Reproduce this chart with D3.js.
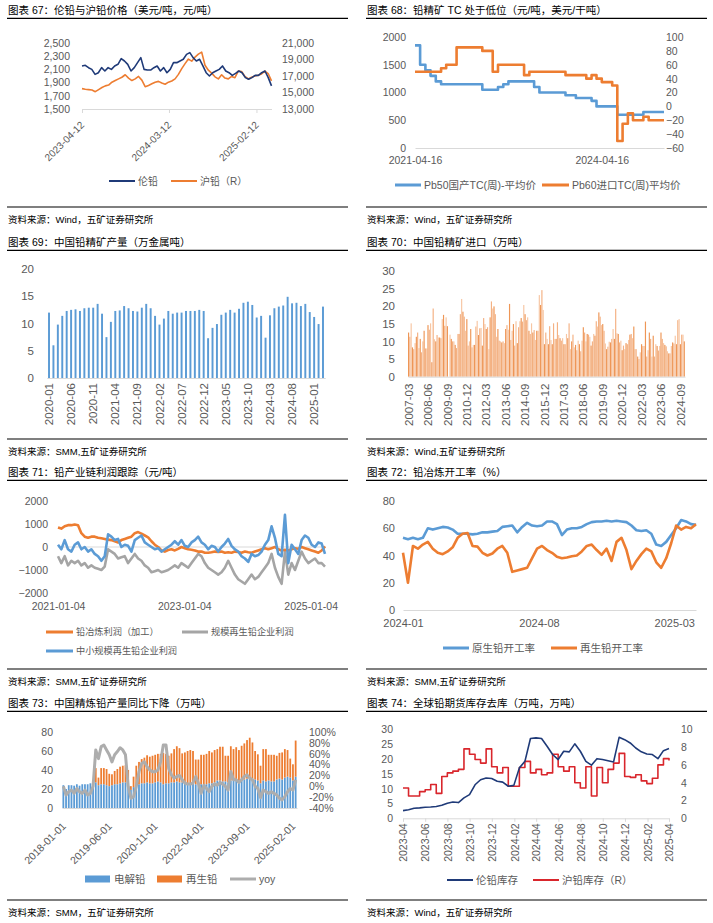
<!DOCTYPE html>
<html lang="zh">
<head>
<meta charset="utf-8">
<title>铅</title>
<script src="https://cdnjs.cloudflare.com/ajax/libs/d3/7.8.5/d3.min.js"></script>
<style>
  body { margin: 0; background: #fff; }
  svg text { font-family: "Liberation Sans", "Noto Sans CJK SC", sans-serif; }
</style>
</head>
<body>
<div id="chart"></div>
<script>
// ---------- data ----------
// 67: LME lead (USD/t) and SHFE lead (CNY/t, right axis)
var lme67 = [2152, 2162, 2126, 2100, 2025, 2050, 2126, 2076, 2126, 2100, 2152, 2177, 2263, 2227, 2177, 2076, 2126, 2202, 2278, 2100,
  2090, 2090, 2126, 2152, 2076, 2126, 2050, 2100, 2202, 2202, 2227, 2253, 2328, 2354, 2278, 2227, 2253, 2152, 2050, 2000,
  2050, 2076, 2100, 2152, 2076, 2050, 2010, 2040, 2076, 2050, 1975, 1950, 1975, 2010, 2010, 2050, 2076, 1975, 1850];
var shfe67 = [15465, 15400, 15350, 15300, 15100, 15350, 15600, 15800, 15900, 16250, 16450, 16650, 16850, 17150, 16750, 16450,
  16650, 16950, 16500, 15700, 15850, 16050, 16250, 16350, 16150, 16000, 16250, 16400, 16650, 17200, 17900, 18500, 19050,
  18800, 19300, 19650, 19900, 18300, 17700, 17350, 16900, 16650, 17150, 16750, 16650, 16950, 16800, 17600, 17550, 16950,
  16650, 16850, 17000, 17100, 17250, 17600, 17300, 16400];
var ticks67 = ["2023-04-12", "2024-03-12", "2025-02-12"];

// 68: monthly TC, from 2021-04-16
var tcDomestic68 = [1850, 1500, 1400, 1300, 1200, 1150, 1150, 1150, 1150, 1150, 1150, 1150, 1150, 1050, 1050, 1050, 1100,
  1150, 1200, 1200, 1200, 1200, 1200, 1100, 1000, 1000, 1000, 1000, 1000, 950, 950, 900, 900, 900, 850, 750, 750, 750, 750,
  600, 600, 600, 600, 600, 650, 650, 650, 650, 650];
var tcImport68 = [50, 50, 50, 50, 50, 55, 60, 60, 85, 85, 85, 85, 85, 80, 80, 50, 60, 60, 60, 60, 60, 45, 50, 50, 50, 50,
  50, 50, 50, 45, 45, 45, 45, 40, 45, 40, 35, 35, 30, -50, -25, -10, -20, -20, -15, -20, -20, -20, -20];
var ticks68 = ["2021-04-16", "2024-04-16"];

// 69: monthly output from 2020-01
var prod69 = [12.0, 6.0, 9.8, 11.4, 12.3, 12.5, 12.6, 12.3, 12.8, 12.9, 12.9, 13.6,
  11.8, 7.5, 10.3, 12.3, 12.4, 13.2, 12.8, 12.3, 12.2, 12.9, 13.6, 12.8,
  11.4, 9.8, 10.9, 12.3, 11.8, 12.0, 12.0, 12.3, 12.3, 12.3, 12.5, 12.3,
  7.3, 9.2, 9.9, 11.6, 12.0, 12.5, 12.0, 12.7, 13.8, 14.0, 13.4, 11.1,
  11.4, 7.4, 11.5, 12.8, 13.1, 13.3, 14.9, 13.7, 13.8, 13.2, 13.6, 12.1,
  11.2, 9.9, 13.1];
var ticks69 = ["2020-01", "2020-06", "2020-11", "2021-04", "2021-09", "2022-02", "2022-07", "2022-12", "2023-05",
  "2023-10", "2024-03", "2024-08", "2025-01"];

// 70: monthly imports from 2007-03
var imp70 = [12.5, 11.3, 15.1, 8.3, 7.8, 9.5, 11.3, 12.5, 8.1, 10.7,
  6.9, 10, 13, 8, 8, 14.6, 13.3, 15.1, 4.1, 19.3,
  10.6, 10, 11.8, 11.1, 11.1, 10.9, 16.3, 17.5, 14.4, 16.8,
  14.3, 0, 11.9, 10.7, 10, 10, 9, 8.1, 12.1, 12.1,
  17.7, 22, 18.4, 17, 13, 16.3, 8.8, 10, 13.5, 8.3,
  9, 9, 14.2, 15.8, 11.8, 13.7, 13.8, 8.8, 16.6, 14.9,
  13.5, 14, 7.8, 16.8, 21.3, 19.3, 19.9, 17.7, 11.3, 13.5,
  10.2, 10, 9.7, 10, 9.5, 13.5, 14.6, 13.3, 20.6, 10.4,
  13, 14.9, 8.8, 15.7, 9.5, 14, 15.7, 16.6, 15.6, 20.3,
  17.7, 16, 16.8, 13, 12.1, 15.1, 12.5, 13.2, 10.4, 13,
  13, 23.1, 20.3, 24.5, 18.9, 9.2, 12.5, 10.7, 9.2, 14.3,
  10.4, 9.2, 15.1, 10.7, 10.7, 15.4, 11.8, 10.9, 10.2, 10.9,
  9.2, 9.2, 12.1, 10.9, 15.1, 7.8, 10, 11.9, 8.3, 9,
  7.5, 10.2, 9.2, 7.2, 10.2, 14, 12.5, 10, 12.1, 11.9,
  11.3, 8.8, 10, 12.1, 11.6, 15.7, 14.2, 18.2, 17, 14.6,
  14.9, 13, 9.4, 7.8, 8.5, 9.9, 9.7, 10.7, 13.5, 10.7,
  19.2, 12.3, 12.1, 9.7, 10.2, 7.5, 8.8, 7.8, 9.5, 9.2,
  10.4, 11.9, 12.1, 10.9, 14.2, 7.8, 7.8, 5.7, 5, 6.9,
  9.2, 8.7, 8.7, 15.6, 5.7, 7.5, 12.5, 10.7, 5.7, 11.6,
  5.7, 9.2, 8.7, 7.4, 8.7, 12.5, 10.7, 9.5, 9, 8.6,
  7.2, 6.6, 6.6, 8.7, 9.7, 9.4, 11.6, 9.2, 16, 16.3,
  9.2, 11.9, 11.9, 10];
var ticks70 = ["2007-03", "2008-06", "2009-09", "2010-12", "2012-03", "2013-06", "2014-09", "2015-12", "2017-03",
  "2018-06", "2019-09", "2020-12", "2022-03", "2023-06", "2024-09"];

// 71: weekly profit, 2021-01-04 .. 2025-03
var smelt71 = [850, 800, 900, 950, 950, 980, 950, 600, 450, 400, 450, 450, 400, 380, 350, 320, 300, 250, 200, 300,
  350, 400, 450, 600, 650, 580, 500, 420, 250, 100, 0, -150, -200, -130, -100, -150, -80, 0, -50, -100,
  -120, -150, -200, -200, -250, -250, -230, -200, -220, -200, -250, -230, -250, -200, -220, -250, -200, -230, -250, -200,
  -150, -100, -50, -100, -50, 0, -100, -150, -120, -150, -100, -50, -80, 0, -50, -100, -150, -200, -250, -150, 30];
var bigRec71 = [-400, -700, -400, -800, -600, -700, -600, -800, -700, -900, -800, -900, -950, -1000, -850, -100, -200, -300, -500, -450,
  -400, -700, -500, -300, -500, -600, -800, -900, -1100, -1050, -1000, -1100, -1050, -1000, -900, -800, -900, -700, -800, -900,
  -700, -500, -300, -400, -700, -900, -1000, -1100, -1200, -1100, -900, -600, -900, -1200, -1400, -1500, -1600, -1400, -1200, -1400,
  -1300, -1100, -900, -700, -300, -900, -1300, -1600, -200, -1200, -700, -1000, -600, -200, -500, -700, -600, -500, -700, -700, -850];
var smallRec71 = [100, -100, 300, -100, -200, 100, 200, -100, 0, -200, -100, -300, -400, -600, -400, 550, 450, 300, 350, 0,
  100, 50, -200, 300, 400, 500, 200, 100, 0, -100, -50, -200, -100, 0, 100, 250, 100, 300, 50, 0,
  200, 300, 450, 200, 100, -100, 50, 0, -200, 0, 150, 350, 50, -100, -200, -400, -500, -650, -300, -400,
  -350, -200, 100, 300, 900, 400, -300, -400, 1400, -700, 100, -100, -300, 300, 500, 400, 100, 0, 200, 150, -300];
var ticks71 = ["2021-01-04", "2023-01-04", "2025-01-04"];

// 72: weekly operating rate (%), 2024-01 .. 2025-04
var primary72 = [53, 52, 53, 52, 53, 60, 59, 60, 61, 60.5, 59, 56, 56, 56, 55.5, 56, 57, 57, 57.5, 58,
  61, 61.5, 62, 57, 61, 64, 62, 61.5, 62, 65, 65, 63, 55, 59, 60, 60, 61, 63, 64.5, 65,
  65, 65.5, 65, 65.5, 65, 64.5, 62, 58.5, 58, 58.5, 56, 48, 47, 50, 55, 60, 66, 65, 63, 62.5];
var secondary72 = [42, 20, 47, 45, 48, 50, 45, 42, 41, 43, 46, 53, 56, 56.5, 47, 46.5, 42, 40, 41.5, 45,
  47, 42, 28, 29, 30, 31, 38, 45, 47, 44, 42, 39, 38, 38.5, 39.5, 40, 43, 47, 48, 44,
  40.5, 45, 36, 50, 53, 44, 30, 36, 41, 45, 43, 35, 31, 38, 49, 62, 59, 61, 60, 63];
var ticks72 = ["2024-01", "2024-08", "2025-03"];

// 73: monthly refined lead from 2018-01 (stacked) and yoy (%)
var electro73 = [24, 20, 24, 24, 23.5, 25, 23.5, 25, 25, 25, 26, 26,
  27, 24, 25, 25, 24, 23, 24, 25, 25, 26, 27, 27,
  26, 19, 22, 25, 25, 26, 26, 27, 26, 26, 27, 28,
  27, 25, 26, 26, 27, 27, 28, 27, 27, 26, 26, 26,
  27, 25, 24, 25, 25, 25, 26, 26, 27, 29, 29, 28,
  28, 27, 29, 30, 29, 29, 30, 30, 31, 32, 31, 30,
  29, 26, 29, 28, 29, 28, 28, 30, 31, 30, 32, 33,
  32, 29, 33];
var recycled73 = [0, 0, 0, 0, 0, 0, 0, 0, 0, 0, 0, 0,
  15, 8, 17, 17, 17, 13, 11.5, 14, 16, 17.5, 17.5, 18,
  14, 4, 11, 19.5, 23.5, 25.5, 27, 28.5, 28, 29, 29, 29,
  30, 33, 31, 29, 30.5, 35, 37, 36, 30.5, 32.5, 34, 35,
  33, 26, 27, 31, 31, 32, 34, 32.5, 34, 33, 35.5, 36.5,
  27, 28, 36, 32, 35, 32, 35.5, 38, 40.5, 42, 38, 30,
  27.5, 18.5, 33, 34, 27, 28, 28, 25, 27, 28.5, 30, 28,
  20, 17, 38];
var yoy73 = [0, -16, -10, -7, -13, -4, -10, -13, -7, -16, -13, 0,
  67, 51, 73, 76, 67, 58, 45, 58, 64, 71, 67, 58,
  0, -22, -19, 0, 27, 42, 45, 36, 30, 27, 27, 30,
  45, 76, 76, 33, 21, 15, 18, 20, 12, 6, 4, 4,
  6, 18, 6, -13, 2, -4, -10, 0, 4, 2, 7, 4,
  0, -7, 27, 12, 12, 7, 12, 18, 21, 15, 12, 0,
  -4, -21, -7, -10, -13, -10, -13, -16, -22, -25, -19, -10,
  -4, -7, 12];
var ticks73 = ["2018-01-01", "2019-06-01", "2020-11-01", "2022-04-01", "2023-09-01", "2025-02-01"];

// 74: half-monthly stocks, 2023-04 .. 2025-04
var lmeStock74 = [2.6, 2.9, 3.4, 3.5, 3.7, 3.8, 4.0, 4.4, 5.1, 5.5, 5.3, 6.9, 8.0, 11.3, 13.0, 13.6, 13.4, 12.5, 12.2, 10.8,
  11.1, 17.0, 19.2, 26.9, 27.1, 26.9, 24.3, 21.5, 19.8, 22.6, 22.4, 25.1, 22.6, 19.2, 17.9, 20.1, 19.8, 19.4, 19.0, 27.3,
  26.5, 25.4, 23.7, 22.4, 21.7, 21.5, 20.1, 22.8, 23.5];
var shfeStock74 = [3.4, 2.5, 2.5, 3.0, 3.2, 3.8, 2.8, 4.7, 5.1, 5.3, 5.5, 7.8, 7.2, 6.6, 6.2, 7.8, 5.8, 5.1, 5.7, 3.6,
  3.6, 5.7, 6.4, 5.1, 5.5, 4.9, 5.1, 7.2, 5.8, 5.3, 5.8, 4.0, 3.4, 5.8, 2.5, 5.7, 4.0, 5.5, 6.2, 7.3,
  4.7, 4.6, 4.9, 4.2, 3.9, 4.5, 6.0, 6.7, 6.5];
var ticks74 = ["2023-04", "2023-06", "2023-08", "2023-10", "2023-12", "2024-02", "2024-04", "2024-06", "2024-08",
  "2024-10", "2024-12", "2025-02", "2025-04"];

// ---------- helpers ----------
var AXIS_TEXT = "#595959", AXIS_LINE = "#d9d9d9";
var parseDay = d3.timeParse("%Y-%m-%d");
var parseMonth = d3.timeParse("%Y-%m");

var svg = d3.select("#chart").append("svg")
  .attr("width", 713)
  .attr("height", 923);

function frame(x0, y0, title, source) {
  svg.append("text").attr("x", x0 + 1).attr("y", y0 + 10).attr("dy", ".35em")
    .style("font-size", "10.5px").attr("fill", "#000").text(title);
  svg.append("line").attr("x1", x0).attr("x2", x0 + 341).attr("y1", y0 + 18.3).attr("y2", y0 + 18.3)
    .attr("stroke", "#000").attr("stroke-width", 1.2);
  svg.append("line").attr("x1", x0).attr("x2", x0 + 341).attr("y1", y0 + 207).attr("y2", y0 + 207)
    .attr("stroke", "#000").attr("stroke-width", 1.2);
  svg.append("text").attr("x", x0 + 1).attr("y", y0 + 219.5).attr("dy", ".35em")
    .style("font-size", "9.5px").attr("fill", "#000").text(source);
}

function yAxis(scale, x, ticks, fmt, size, right) {
  var ax = right ? d3.axisRight(scale) : d3.axisLeft(scale);
  var g = svg.append("g").attr("transform", "translate(" + x + ",0)")
    .call(ax.tickValues(ticks).tickSize(0).tickPadding(0).tickFormat(fmt));
  g.select(".domain").remove();
  g.selectAll("text").attr("fill", AXIS_TEXT).style("font-size", size);
  return g;
}

function xAxis(scale, y, ticks, fmt, tickSize, pad, size) {
  var g = svg.append("g").attr("transform", "translate(0," + y + ")")
    .call(d3.axisBottom(scale).tickValues(ticks).tickSize(tickSize).tickSizeOuter(0).tickPadding(pad).tickFormat(fmt));
  g.select(".domain").attr("stroke", AXIS_LINE);
  g.selectAll(".tick line").attr("stroke", AXIS_LINE);
  g.selectAll("text").attr("fill", AXIS_TEXT).style("font-size", size);
  return g;
}

function hLine(x1, x2, y) {
  svg.append("line").attr("x1", x1).attr("x2", x2).attr("y1", y).attr("y2", y)
    .attr("stroke", AXIS_LINE).attr("stroke-width", 1);
}

// n evenly spaced dates from t0 to t1
function spread(n, t0, t1) {
  var s = d3.scaleLinear().domain([0, n - 1]).range([+t0, +t1]);
  return d3.range(n).map(function (i) { return new Date(s(i)); });
}

function addLine(xs, values, x, y, color, width, curve) {
  var line = d3.line()
    .x(function (d, i) { return x(xs[i]); })
    .y(function (d) { return y(d); })
    .curve(curve || d3.curveLinear);
  svg.append("path").datum(values).attr("d", line)
    .attr("fill", "none").attr("stroke", color).attr("stroke-width", width)
    .attr("stroke-linejoin", "round");
}

function legendLine(x1, x2, y, color, width, label, size) {
  svg.append("line").attr("x1", x1).attr("x2", x2).attr("y1", y).attr("y2", y)
    .attr("stroke", color).attr("stroke-width", width);
  svg.append("text").attr("x", x2 + 3).attr("y", y).attr("dy", ".35em")
    .style("font-size", size).attr("fill", AXIS_TEXT).text(label);
}

function legendBox(x1, x2, y, color, label, size) {
  svg.append("rect").attr("x", x1).attr("y", y - 3.5).attr("width", x2 - x1).attr("height", 7).attr("fill", color);
  svg.append("text").attr("x", x2 + 4).attr("y", y).attr("dy", ".35em")
    .style("font-size", size).attr("fill", AXIS_TEXT).text(label);
}

function rotateLabels(g, angle, lx, ly) {
  g.selectAll("text")
    .attr("x", lx).attr("y", ly).attr("dy", ".35em")
    .attr("transform", "rotate(" + angle + ")")
    .style("text-anchor", "end");
}

// ---------- 67 ----------
frame(7, 0, "图表 67：伦铅与沪铅价格（美元/吨，元/吨）", "资料来源：Wind，五矿证券研究所");
var t67 = [parseDay("2023-04-12"), parseDay("2025-04-11")];
var x67 = d3.scaleTime().domain(t67).range([82, 271.5]);
var yL67 = d3.scaleLinear().domain([1500, 2500]).range([109, 43]);
var yR67 = d3.scaleLinear().domain([13000, 21000]).range([109, 43]);
yAxis(yL67, 70, d3.range(1500, 2501, 200), d3.format(","), "10.5px");
yAxis(yR67, 282, d3.range(13000, 21001, 2000), d3.format(","), "10.5px", true);
var gx67 = xAxis(x67, 109, ticks67.map(parseDay), d3.timeFormat("%Y-%m-%d"), 4, 3, "10px");
rotateLabels(gx67, -45, -10, 10);
addLine(spread(shfe67.length, t67[0], t67[1]), shfe67, x67, yR67, "#ed7d31", 1.6);
addLine(spread(lme67.length, t67[0], t67[1]), lme67, x67, yL67, "#1f3a78", 1.6);
legendLine(109, 135, 181, "#1f3a78", 2, "伦铅", "10px");
legendLine(171, 197, 181, "#ed7d31", 2, "沪铅（R）", "10px");

// ---------- 68 ----------
frame(366, 0, "图表 68：铅精矿 TC 处于低位（元/吨，美元/干吨）", "资料来源：Wind，五矿证券研究所");
var start68 = parseDay("2021-04-16");
var x68 = d3.scaleTime().domain([start68, d3.timeMonth.offset(start68, 48)]).range([415, 664]);
var yL68 = d3.scaleLinear().domain([0, 2000]).range([148, 37]);
var yR68 = d3.scaleLinear().domain([-60, 100]).range([148, 37]);
var months68 = d3.range(tcDomestic68.length).map(function (m) { return d3.timeMonth.offset(start68, m); });
yAxis(yL68, 406, d3.range(0, 2001, 500), d3.format(""), "10.5px");
yAxis(yR68, 666, d3.range(-60, 101, 20), d3.format(""), "10.5px", true);
xAxis(x68, 148, ticks68.map(parseDay), d3.timeFormat("%Y-%m-%d"), 0, 9, "10.5px");
addLine(months68, tcDomestic68, x68, yL68, "#5b9bd5", 2.6, d3.curveStepAfter);
addLine(months68, tcImport68, x68, yR68, "#ed7d31", 2.6, d3.curveStepAfter);
legendLine(395, 421, 185, "#5b9bd5", 3, "Pb50国产TC(周)-平均价", "10.5px");
legendLine(542, 569, 185, "#ed7d31", 3, "Pb60进口TC(周)平均价", "10.5px");

// ---------- 69 ----------
frame(7, 232, "图表 69：中国铅精矿产量（万金属吨）", "资料来源：SMM,五矿证券研究所");
var start69 = parseMonth("2020-01");
var months69 = d3.timeMonth.range(start69, d3.timeMonth.offset(start69, prod69.length)).map(d3.timeFormat("%Y-%m"));
var x69 = d3.scaleBand().domain(months69).range([46.8, 325.2]);
var y69 = d3.scaleLinear().domain([0, 20]).range([378, 269]);
yAxis(y69, 34, d3.range(0, 21, 5), d3.format(""), "11.5px");
svg.append("g").selectAll("rect").data(prod69).enter().append("rect")
  .attr("x", function (d, i) { return x69(months69[i]) + x69.bandwidth() * 0.28; })
  .attr("width", x69.bandwidth() * 0.44)
  .attr("y", function (d) { return y69(d); })
  .attr("height", function (d) { return y69(0) - y69(d); })
  .attr("fill", "#5b9bd5");
var gx69 = xAxis(x69, 378, ticks69, null, 0, 0, "11.5px");
rotateLabels(gx69, -90, -5, 0);

// ---------- 70 ----------
frame(366, 232, "图表 70：中国铅精矿进口（万吨）", "资料来源：Wind,五矿证券研究所");
var start70 = parseMonth("2007-03");
var months70 = d3.timeMonth.range(start70, d3.timeMonth.offset(start70, imp70.length)).map(d3.timeFormat("%Y-%m"));
var x70 = d3.scaleBand().domain(months70).range([408, 685]);
var y70 = d3.scaleLinear().domain([0, 30]).range([376.7, 270.7]);
yAxis(y70, 395, d3.range(0, 31, 5), d3.format(""), "11.5px");
var shades70 = ["#ee9656", "#f4b183", "#f7c6a3"];
svg.append("g").selectAll("rect").data(imp70).enter().append("rect")
  .attr("x", function (d, i) { return x70(months70[i]); })
  .attr("width", x70.bandwidth() * 0.9)
  .attr("y", function (d) { return y70(d); })
  .attr("height", function (d) { return y70(0) - y70(d); })
  .attr("fill", function (d, i) { return shades70[i % 3]; });
var gx70 = xAxis(x70, 376.7, ticks70, null, 0, 0, "11.5px");
rotateLabels(gx70, -90, -7, 0);

// ---------- 71 ----------
frame(7, 462, "图表 71：铅产业链利润跟踪（元/吨）", "资料来源：SMM,五矿证券研究所");
var t71 = [parseDay("2021-01-04"), parseDay("2025-03-28")];
var x71 = d3.scaleTime().domain(t71).range([58, 325]);
var y71 = d3.scaleLinear().domain([-2000, 2000]).range([593, 501]);
yAxis(y71, 48, d3.range(-2000, 2001, 1000), d3.format(""), "10.5px");
hLine(58, 326, y71(0));
var gx71 = xAxis(x71, 600, ticks71.map(parseDay), d3.timeFormat("%Y-%m-%d"), 0, 3, "10.5px");
gx71.select(".domain").remove();
var dates71 = spread(smelt71.length, t71[0], t71[1]);
addLine(dates71, bigRec71, x71, y71, "#a5a5a5", 2.6);
addLine(dates71, smelt71, x71, y71, "#ed7d31", 2.6);
addLine(dates71, smallRec71, x71, y71, "#5b9bd5", 2.6);
legendLine(46, 73, 632, "#ed7d31", 3, "铅冶炼利润（加工）", "9.2px");
legendLine(182, 208, 632, "#a5a5a5", 3, "规模再生铅企业利润", "9.2px");
legendLine(46, 73, 651, "#5b9bd5", 3, "中小规模再生铅企业利润", "9.2px");

// ---------- 72 ----------
frame(366, 462, "图表 72：铅冶炼开工率（%）", "资料来源：SMM,五矿证券研究所");
var t72 = [parseMonth("2024-01"), parseDay("2025-04-04")];
var x72 = d3.scaleTime().domain(t72).range([403, 696]);
var y72 = d3.scaleLinear().domain([0, 80]).range([610, 501]);
yAxis(y72, 395, d3.range(0, 81, 20), d3.format(""), "11px");
var gx72 = xAxis(x72, 610, ticks72.map(parseMonth), d3.timeFormat("%Y-%m"), 0, 9, "11px");
var dates72 = spread(primary72.length, t72[0], t72[1]);
addLine(dates72, primary72, x72, y72, "#5b9bd5", 2.6);
addLine(dates72, secondary72, x72, y72, "#ed7d31", 2.6);
legendLine(443, 469, 648, "#5b9bd5", 3, "原生铅开工率", "10.5px");
legendLine(551, 577, 648, "#ed7d31", 3, "再生铅开工率", "10.5px");

// ---------- 73 ----------
frame(7, 693, "图表 73：中国精炼铅产量同比下降（万吨）", "资料来源：SMM，五矿证券研究所");
var start73 = parseMonth("2018-01");
var months73 = d3.timeMonth.range(start73, d3.timeMonth.offset(start73, electro73.length)).map(d3.timeFormat("%Y-%m-%d"));
var x73 = d3.scaleBand().domain(months73).range([62, 297]);
var yL73 = d3.scaleLinear().domain([0, 80]).range([808, 732]);
var yR73 = d3.scaleLinear().domain([-40, 100]).range([808, 732]);
yAxis(yL73, 53, d3.range(0, 81, 20), d3.format(""), "10.5px");
yAxis(yR73, 309, d3.range(-40, 101, 20), function (d) { return d + "%"; }, "10.5px", true);
var bw73 = x73.bandwidth() * 0.66;
svg.append("g").selectAll("rect").data(electro73).enter().append("rect")
  .attr("x", function (d, i) { return x73(months73[i]) + (x73.bandwidth() - bw73) / 2; })
  .attr("width", bw73)
  .attr("y", function (d) { return yL73(d); })
  .attr("height", function (d) { return yL73(0) - yL73(d); })
  .attr("fill", "#5b9bd5");
svg.append("g").selectAll("rect").data(recycled73).enter().append("rect")
  .attr("x", function (d, i) { return x73(months73[i]) + (x73.bandwidth() - bw73) / 2; })
  .attr("width", bw73)
  .attr("y", function (d, i) { return yL73(electro73[i] + d); })
  .attr("height", function (d, i) { return yL73(electro73[i]) - yL73(electro73[i] + d); })
  .attr("fill", "#ed7d31");
var gx73 = xAxis(x73, 808, ticks73, null, 0, 0, "10.5px");
rotateLabels(gx73, -45, -11, 12);
var centers73 = months73.map(function (m) { return m; });
var xc73 = function (m) { return x73(m) + x73.bandwidth() / 2; };
addLine(centers73, yoy73, xc73, yR73, "#adadad", 3);
legendBox(85, 110, 879, "#5b9bd5", "电解铅", "10.5px");
legendBox(157, 182, 879, "#ed7d31", "再生铅", "10.5px");
legendLine(230, 256, 879, "#adadad", 3, "yoy", "10.5px");

// ---------- 74 ----------
frame(366, 693, "图表 74：全球铅期货库存去库（万吨，万吨）", "资料来源：Wind，五矿证券研究所");
var t74 = [parseMonth("2023-04"), parseMonth("2025-04")];
var x74 = d3.scaleTime().domain(t74).range([403, 669]);
var yL74 = d3.scaleLinear().domain([0, 30]).range([818.3, 729.3]);
var yR74 = d3.scaleLinear().domain([0, 10]).range([818.3, 729.3]);
yAxis(yL74, 393, d3.range(0, 31, 5), d3.format(""), "10.5px");
yAxis(yR74, 681, d3.range(0, 11, 2), d3.format(""), "10.5px", true);
var gx74 = xAxis(x74, 818.3, ticks74.map(parseMonth), d3.timeFormat("%Y-%m"), 3.5, 0, "10.5px");
rotateLabels(gx74, -90, -5, 0);
var dates74 = spread(lmeStock74.length, t74[0], t74[1]);
addLine(dates74, shfeStock74, x74, yR74, "#d9262c", 1.6, d3.curveStepAfter);
addLine(dates74, lmeStock74, x74, yL74, "#1f3a78", 1.6);
legendLine(447, 473, 880, "#1f3a78", 2, "伦铅库存", "10.5px");
legendLine(533, 559, 880, "#d9262c", 2, "沪铅库存（R）", "10.5px");
</script>
</body>
</html>
